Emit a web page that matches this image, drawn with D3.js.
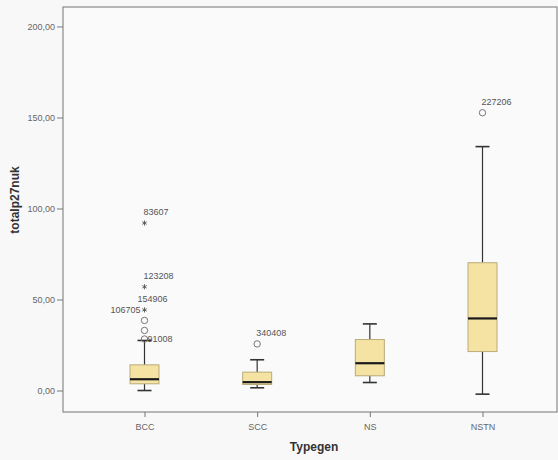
<!DOCTYPE html>
<html><head><meta charset="utf-8">
<script src="https://cdn.jsdelivr.net/npm/d3@7"></script>
<style>body{margin:0;background:#f8f8f9;} svg{display:block;}</style>
</head><body>
<svg id="c" width="558" height="460"></svg>
<script>
const categories = ["BCC", "SCC", "NS", "NSTN"];
const whiskerLow  = [0, 1.5, 4.4, -2];
const q1          = [3.7, 3.3, 8.1, 21.4];
const median      = [6.2, 4.6, 15.0, 39.6];
const q3          = [14.1, 10.1, 28.0, 70.2];
const whiskerHigh = [27.5, 16.9, 36.6, 134];
// outliers: category, value, type (circle/star), label, label placement
const outCat   = ["BCC", "BCC", "BCC", "BCC", "BCC", "BCC", "SCC", "NSTN"];
const outVal   = [92, 57, 44.3, 38.5, 33, 28.3, 25.6, 152.6];
const outType  = ["star", "star", "star", "circle", "circle", "circle", "circle", "circle"];
const outLabel = ["83607", "123208", "106705", "", "", "91008", "340408", "227206"];
const outPlace = ["above", "above", "left", "", "", "right", "above", "above"];
const extraLabelCat = ["BCC"], extraLabelVal = [50.5], extraLabelText = ["154906"];
const yTicks = [0, 50, 100, 150, 200];

const svg = d3.select("#c");
const L = 63, R = 557, T = 7, B = 412;
const y = d3.scaleLinear().domain([-11.8, 210.7]).range([B, T]);
const x = d3.scalePoint().domain(categories).range([144.5, 482.5]);
const fmt = v => d3.format(".2f")(v).replace(".", ",");

svg.append("rect").attr("x", L).attr("y", T).attr("width", R - L).attr("height", B - T)
  .attr("fill", "#fafafa").attr("stroke", "#8a8a8a").attr("stroke-width", 1.2);

const yAxis = svg.append("g").attr("transform", `translate(${L},0)`)
  .call(d3.axisLeft(y).tickValues(yTicks).tickFormat(fmt).tickSize(6).tickPadding(2));
yAxis.select(".domain").remove();
yAxis.selectAll("line").attr("stroke", "#777");
yAxis.selectAll("text").attr("fill", "#666").style("font-family", "Arial, 'Liberation Sans', sans-serif").style("font-size", "9px");

const xAxis = svg.append("g").attr("transform", `translate(0,${B})`)
  .call(d3.axisBottom(x).tickSize(5).tickPadding(7));
xAxis.select(".domain").remove();
xAxis.selectAll("line").attr("stroke", "#777");
xAxis.selectAll("text").attr("fill", "#666").style("font-family", "Arial, 'Liberation Sans', sans-serif").style("font-size", "9px");

const bw = 29, cw = 14;
const g = svg.append("g");
categories.forEach((c, i) => {
  const cx = x(c);
  g.append("line").attr("x1", cx).attr("x2", cx).attr("y1", y(whiskerHigh[i])).attr("y2", y(q3[i])).attr("stroke", "#333").attr("stroke-width", 1.2);
  g.append("line").attr("x1", cx).attr("x2", cx).attr("y1", y(q1[i])).attr("y2", y(whiskerLow[i])).attr("stroke", "#333").attr("stroke-width", 1.2);
  g.append("line").attr("x1", cx - cw / 2).attr("x2", cx + cw / 2).attr("y1", y(whiskerHigh[i])).attr("y2", y(whiskerHigh[i])).attr("stroke", "#333").attr("stroke-width", 1.6);
  g.append("line").attr("x1", cx - cw / 2).attr("x2", cx + cw / 2).attr("y1", y(whiskerLow[i])).attr("y2", y(whiskerLow[i])).attr("stroke", "#333").attr("stroke-width", 1.6);
  g.append("rect").attr("x", cx - bw / 2).attr("width", bw).attr("y", y(q3[i])).attr("height", y(q1[i]) - y(q3[i]))
    .attr("fill", "#f5e3a3").attr("stroke", "#b9ab78").attr("stroke-width", 1);
  g.append("line").attr("x1", cx - bw / 2).attr("x2", cx + bw / 2).attr("y1", y(median[i])).attr("y2", y(median[i])).attr("stroke", "#1a1a1a").attr("stroke-width", 2.2);
});

const lblStyle = s => s.attr("fill", "#555").style("font-family", "Arial, 'Liberation Sans', sans-serif").style("font-size", "9px");
outVal.forEach((v, i) => {
  const cx = x(outCat[i]), cy = y(v);
  if (outType[i] === "circle") {
    g.append("circle").attr("cx", cx).attr("cy", cy).attr("r", 3.2).attr("fill", "none").attr("stroke", "#777").attr("stroke-width", 1);
  } else {
    g.append("path").attr("d", d3.symbol(d3.symbolAsterisk, 18)()).attr("transform", `translate(${cx},${cy})`).attr("fill", "none").attr("stroke", "#555").attr("stroke-width", 0.9);
  }
  if (outLabel[i]) {
    const t = g.append("text").text(outLabel[i]).call(lblStyle);
    if (outPlace[i] === "above") t.attr("x", cx - 1).attr("y", cy - 8);
    else if (outPlace[i] === "left") t.attr("x", cx - 4).attr("y", cy + 3).attr("text-anchor", "end");
    else t.attr("x", cx + 3).attr("y", cy + 3);
  }
});
extraLabelVal.forEach((v, i) => {
  g.append("text").text(extraLabelText[i]).attr("x", x(extraLabelCat[i]) - 7).attr("y", y(v) + 3).call(lblStyle);
});

svg.append("text").text("totalp27nuk").attr("transform", "translate(19,200) rotate(-90)").attr("text-anchor", "middle")
  .attr("fill", "#333").style("font-family", "Arial, 'Liberation Sans', sans-serif").style("font-size", "12px").style("font-weight", "bold");
svg.append("text").text("Typegen").attr("x", 314).attr("y", 451).attr("text-anchor", "middle")
  .attr("fill", "#333").style("font-family", "Arial, 'Liberation Sans', sans-serif").style("font-size", "12px").style("font-weight", "bold");
</script>
</body></html>
